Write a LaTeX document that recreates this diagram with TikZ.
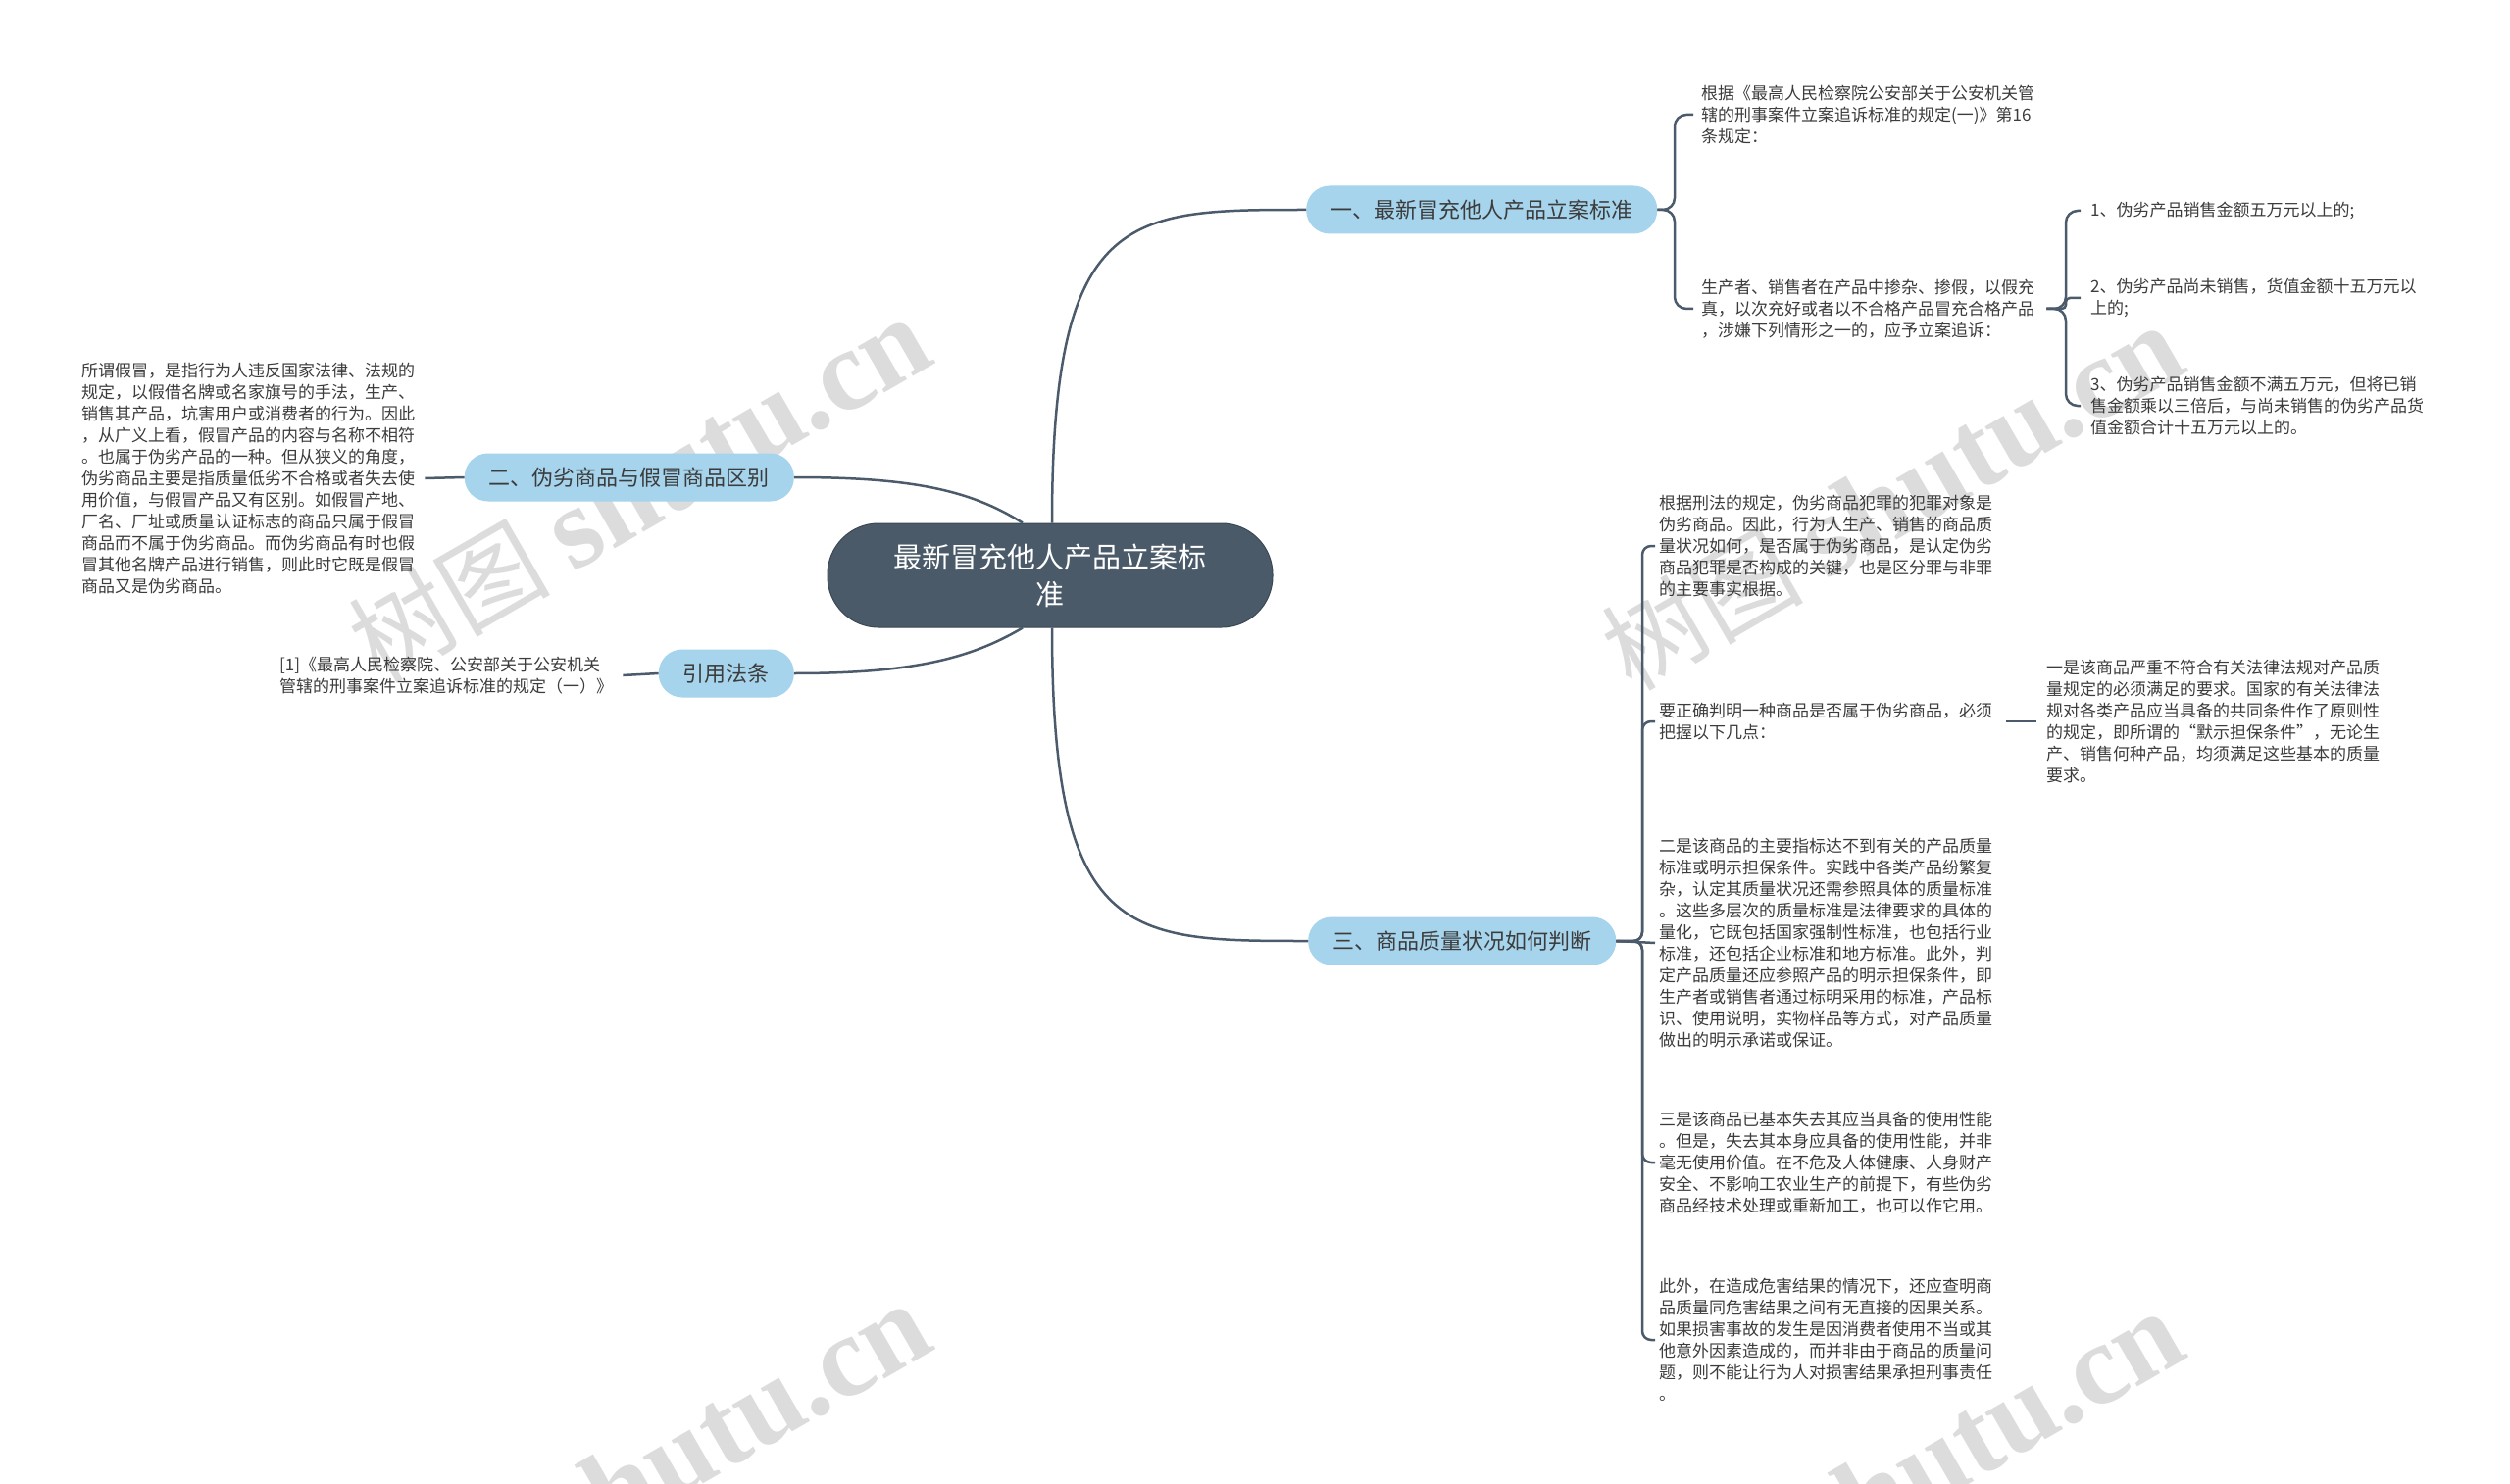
\documentclass[tikz,border=0pt]{standalone}
\usepackage{fontspec}
\setmainfont{Noto Sans CJK SC}
\newfontfamily\wmlat{Liberation Serif}
\definecolor{linec}{HTML}{4B5B6B}
\definecolor{rootc}{HTML}{4A5A69}
\definecolor{branchc}{HTML}{A5D4EC}
\definecolor{txtc}{HTML}{3C3C3C}
\definecolor{wmc}{HTML}{DCDCDC}
\begin{document}
\begin{tikzpicture}[x=1pt,y=-1pt,
 conn/.style={draw=linec, line width=2.5pt, rounded corners=12pt},
 connb/.style={draw=linec, line width=2.5pt, rounded corners=9pt},
 conns/.style={draw=linec, line width=2.5pt, rounded corners=4pt},
 rootnode/.style={fill=rootc, draw=rootc!80!black, line width=1pt, rounded corners=52pt, minimum width=454pt, minimum height=106pt, text=white, align=center, font=\fontsize{29}{38}\selectfont, inner sep=0pt},
 branch/.style={fill=branchc, rounded corners=24pt, minimum height=49pt, inner xsep=25pt, inner ysep=0pt, text=txtc, font=\fontsize{22}{26}\selectfont},
 leaf/.style={inner sep=0pt, align=left, text=txtc, font=\fontsize{17}{22}\selectfont},
 wm/.style={text=wmc, rotate=30, inner sep=0pt}
]
\useasboundingbox[fill=white] (0,0) rectangle (2560,1514);

% watermarks
\node[wm] (w1) at (652,500) {\fontsize{103}{103}\selectfont 树图 {\wmlat\bfseries\fontsize{118}{118}\selectfont shutu.cn}};
\node[wm] (w2) at (1930,508) {\fontsize{103}{103}\selectfont 树图 {\wmlat\bfseries\fontsize{118}{118}\selectfont shutu.cn}};
\node[wm] (w3) at (652,1506) {\fontsize{103}{103}\selectfont 树图 {\wmlat\bfseries\fontsize{118}{118}\selectfont shutu.cn}};
\node[wm] (w4) at (1930,1514) {\fontsize{103}{103}\selectfont 树图 {\wmlat\bfseries\fontsize{118}{118}\selectfont shutu.cn}};

% root and branches
\node[rootnode] (root) at (1071,587) {最新冒充他人产品立案标\\准};
\node[branch, anchor=west] (b1) at (1332,214) {一、最新冒充他人产品立案标准};
\node[branch, anchor=east] (b2) at (810,487) {二、伪劣商品与假冒商品区别};
\node[branch, anchor=east] (b3) at (810,687) {引用法条};
\node[branch, anchor=west] (b4) at (1334,960) {三、商品质量状况如何判断};

% leaves of branch 1
\node[leaf, anchor=west] (a1) at (1735,117) {根据《最高人民检察院公安部关于公安机关管\\辖的刑事案件立案追诉标准的规定(一)》第16\\条规定：};
\node[leaf, anchor=west] (a2) at (1735,315) {生产者、销售者在产品中掺杂、掺假，以假充\\真，以次充好或者以不合格产品冒充合格产品\\，涉嫌下列情形之一的，应予立案追诉：};
\node[leaf, anchor=west] (c1) at (2132,215) {1、伪劣产品销售金额五万元以上的;};
\node[leaf, anchor=west] (c2) at (2132,304) {2、伪劣产品尚未销售，货值金额十五万元以\\上的;};
\node[leaf, anchor=west] (c3) at (2132,414) {3、伪劣产品销售金额不满五万元，但将已销\\售金额乘以三倍后，与尚未销售的伪劣产品货\\值金额合计十五万元以上的。};

% leaves of branch 2 and 3
\node[leaf, anchor=west] (l1) at (83,488) {所谓假冒，是指行为人违反国家法律、法规的\\规定，以假借名牌或名家旗号的手法，生产、\\销售其产品，坑害用户或消费者的行为。因此\\，从广义上看，假冒产品的内容与名称不相符\\。也属于伪劣产品的一种。但从狭义的角度，\\伪劣商品主要是指质量低劣不合格或者失去使\\用价值，与假冒产品又有区别。如假冒产地、\\厂名、厂址或质量认证标志的商品只属于假冒\\商品而不属于伪劣商品。而伪劣商品有时也假\\冒其他名牌产品进行销售，则此时它既是假冒\\商品又是伪劣商品。};
\node[leaf, anchor=west] (r1) at (285,689) {[1]《最高人民检察院、公安部关于公安机关\\管辖的刑事案件立案追诉标准的规定（一）》};

% leaves of branch 4
\node[leaf, anchor=west] (d1) at (1692,557) {根据刑法的规定，伪劣商品犯罪的犯罪对象是\\伪劣商品。因此，行为人生产、销售的商品质\\量状况如何，是否属于伪劣商品，是认定伪劣\\商品犯罪是否构成的关键，也是区分罪与非罪\\的主要事实根据。};
\node[leaf, anchor=west] (d2) at (1692,736) {要正确判明一种商品是否属于伪劣商品，必须\\把握以下几点：};
\node[leaf, anchor=west] (e1) at (2087,736) {一是该商品严重不符合有关法律法规对产品质\\量规定的必须满足的要求。国家的有关法律法\\规对各类产品应当具备的共同条件作了原则性\\的规定，即所谓的“默示担保条件”，无论生\\产、销售何种产品，均须满足这些基本的质量\\要求。};
\node[leaf, anchor=west] (d3) at (1692,962) {二是该商品的主要指标达不到有关的产品质量\\标准或明示担保条件。实践中各类产品纷繁复\\杂，认定其质量状况还需参照具体的质量标准\\。这些多层次的质量标准是法律要求的具体的\\量化，它既包括国家强制性标准，也包括行业\\标准，还包括企业标准和地方标准。此外，判\\定产品质量还应参照产品的明示担保条件，即\\生产者或销售者通过标明采用的标准，产品标\\识、使用说明，实物样品等方式，对产品质量\\做出的明示承诺或保证。};
\node[leaf, anchor=west] (d4) at (1692,1186) {三是该商品已基本失去其应当具备的使用性能\\。但是，失去其本身应具备的使用性能，并非\\毫无使用价值。在不危及人体健康、人身财产\\安全、不影响工农业生产的前提下，有些伪劣\\商品经技术处理或重新加工，也可以作它用。};
\node[leaf, anchor=west] (d5) at (1692,1367) {此外，在造成危害结果的情况下，还应查明商\\品质量同危害结果之间有无直接的因果关系。\\如果损害事故的发生是因消费者使用不当或其\\他意外因素造成的，而并非由于商品的质量问\\题，则不能让行为人对损害结果承担刑事责任\\。};

% root connectors
\draw[conn] ([xshift=2pt]root.north) .. controls (1073,214) and (1150,214) .. (b1.west);
\draw[conn] ([xshift=2pt]root.south) .. controls (1073,960) and (1150,960) .. (b4.west);
\draw[conn] ([xshift=-28pt]root.north) .. controls (990,500) and (930,487) .. (b2.east);
\draw[conn] ([xshift=-28pt]root.south) .. controls (990,672) and (930,687) .. (b3.east);

% branch 1
\draw[conn] (b1.east) -- (1708,214) -- (1708,117) -- ([xshift=-8pt]a1.west);
\draw[conn] (b1.east) -- (1708,214) -- (1708,315) -- ([xshift=-8pt]a2.west);
\draw[conn] ([xshift=12pt]a2.east) -- (2107,315) -- (2107,215) -- ([xshift=-10pt]c1.west);
\draw[conns] ([xshift=12pt]a2.east) -- (2107,315) -- (2107,304) -- ([xshift=-10pt]c2.west);
\draw[conn] ([xshift=12pt]a2.east) -- (2107,315) -- (2107,414) -- ([xshift=-10pt]c3.west);

% branch 2, 3
\draw[conn] ([xshift=10pt]l1.east) -- (b2.west);
\draw[conn] ([xshift=10pt]r1.east) -- (b3.west);

% branch 4
\draw[connb] (b4.east) -- (1675,960) -- (1675,557) -- ([xshift=-4pt]d1.west);
\draw[connb] (b4.east) -- (1675,960) -- (1675,736) -- ([xshift=-4pt]d2.west);
\draw[conn] (b4.east) -- ([xshift=-4pt]d3.west);
\draw[connb] (b4.east) -- (1675,960) -- (1675,1186) -- ([xshift=-4pt]d4.west);
\draw[connb] (b4.east) -- (1675,960) -- (1675,1367) -- ([xshift=-4pt]d5.west);
\draw[conn] ([xshift=14pt]d2.east) -- ([xshift=-10pt]e1.west);
\end{tikzpicture}
\end{document}
